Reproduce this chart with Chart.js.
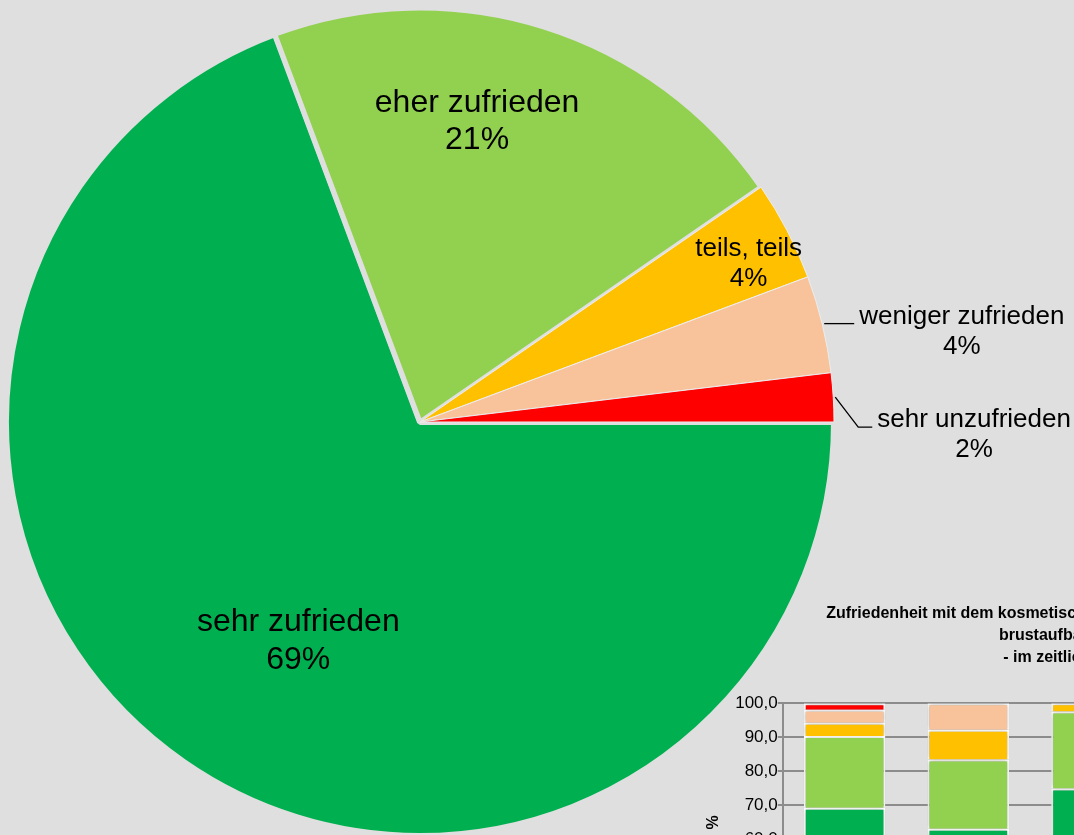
<!DOCTYPE html>
<html lang="de">
<head>
<meta charset="utf-8">
<script src="https://cdn.jsdelivr.net/npm/chart.js@4.4.1/dist/chart.umd.min.js"></script>
<style>
    html, body {
        margin: 0;
        padding: 0;
        width: 1074px;
        height: 835px;
        overflow: hidden;
        background: #dfdfdf;
    }
    #pie { position: absolute; left: 0; top: 0; }
    #bars { position: absolute; left: 700px; top: 590px; }
</style>
</head>
<body>
<canvas id="pie" width="1074" height="835"></canvas>
<canvas id="bars" width="840" height="400"></canvas>
<script>
// Antwortkategorien und Anteile (%)
const kategorien = ['sehr zufrieden', 'eher zufrieden', 'teils, teils', 'weniger zufrieden', 'sehr unzufrieden'];
const anteile = [69.3, 21.1, 3.9, 3.8, 1.9];
const farben = ['#00b050', '#92d050', '#ffc000', '#f8c39b', '#ff0000'];

// kleines Balkendiagramm: zeitlicher Vergleich
const jahre = ['2017', '2015', '2013', '2011', '2009'];
const sehrZufrieden = [69.3, 63.2, 75.0, null, null];
const eherZufrieden = [21.1, 20.3, 22.6, null, null];
const teilsTeils = [3.9, 8.7, 2.4, null, null];
const wenigerZufrieden = [3.8, 7.8, 0, null, null];
const sehrUnzufrieden = [1.9, 0, 0, null, null];
const reihen = [sehrZufrieden, eherZufrieden, teilsTeils, wenigerZufrieden, sehrUnzufrieden];

const titelZeilen = [
    'Zufriedenheit mit dem kosmetischen Ergebnis der brusterhaltenden bzw. der',
    'brustaufbauenden Operationen',
    '- im zeitlichen Vergleich (in %)'
];

const FONT = '"Liberation Sans", Arial, sans-serif';
Chart.defaults.font.family = FONT;
Chart.defaults.color = '#000';

let prozent = anteile.map(v => Math.round(v) + '%');

// wo die Beschriftungen sitzen (innen: Abstand/Drehung, außen: Führungslinie)
let labelPos = [
    {dist: 0.61, turn: -5.7, size: 32, lh: 38},
    {dist: 0.744, turn: -6.7, size: 32, lh: 37},
    {dist: 0.887, turn: 1.9, size: 26, lh: 30},
    {leader: [[30, 0]], size: 26, lh: 30},
    {leader: [[23, 30], [14, 0]], size: 26, lh: 30},
];

let pieLabels = {
    id: 'pieLabels',
    afterDatasetsDraw(chart) {
        let ctx = chart.ctx;
        let arcs = chart.getDatasetMeta(0).data;
        ctx.save();
        ctx.fillStyle = '#000';
        ctx.textAlign = 'center';
        arcs.forEach((arc, i) => {
            let p = arc.getProps(['x', 'y', 'startAngle', 'endAngle', 'outerRadius']);
            let pos = labelPos[i];
            let mid = (p.startAngle + p.endAngle) / 2;
            let r = p.outerRadius - 3;
            ctx.font = pos.size + 'px ' + FONT;
            if (!pos.leader) {
                let a = mid + pos.turn * Math.PI / 180;
                let cx = p.x + Math.cos(a) * r * pos.dist;
                let cy = p.y + Math.sin(a) * r * pos.dist;
                ctx.textBaseline = 'middle';
                ctx.fillText(kategorien[i], cx, cy - pos.lh / 2);
                ctx.fillText(prozent[i], cx, cy + pos.lh / 2);
            } else {
                let x = p.x + Math.cos(mid) * (r + 5);
                let y = p.y + Math.sin(mid) * (r + 5);
                ctx.beginPath();
                ctx.moveTo(x, y);
                pos.leader.forEach(([dx, dy]) => {
                    x += dx;
                    y += dy;
                    ctx.lineTo(x, y);
                });
                ctx.strokeStyle = '#000';
                ctx.lineWidth = 1.3;
                ctx.stroke();
                let w = ctx.measureText(kategorien[i]).width;
                ctx.textBaseline = 'alphabetic';
                ctx.fillText(kategorien[i], x + 5 + w / 2, y);
                ctx.fillText(prozent[i], x + 5 + w / 2, y + pos.lh);
            }
        });
        ctx.restore();
    }
};

// leichter Schatten unter den Balken
let barShadow = {
    id: 'barShadow',
    beforeDatasetsDraw(chart) {
        let ctx = chart.ctx;
        ctx.save();
        ctx.shadowColor = 'rgba(0, 0, 0, 0.28)';
        ctx.shadowBlur = 5;
    },
    afterDatasetsDraw(chart) {
        chart.ctx.restore();
    }
};

let pieChart = new Chart(document.getElementById('pie'), {
    type: 'pie',
    data: {
        labels: kategorien,
        datasets: [{
            data: anteile,
            backgroundColor: farben,
            borderColor: ['#dfdfdf', '#dfdfdf', '#ececec', '#ececec', '#ececec'],
            borderWidth: [6, 5, 1, 1, 1],
            radius: 414,
        }]
    },
    options: {
        responsive: false,
        animation: false,
        rotation: 90,
        layout: {padding: {left: 9, right: 243, top: 11, bottom: 2}},
        plugins: {
            legend: {display: false},
            tooltip: {enabled: false}
        }
    },
    plugins: [pieLabels]
});

let barChart = new Chart(document.getElementById('bars'), {
    type: 'bar',
    data: {
        labels: jahre,
        datasets: kategorien.map((k, i) => ({
            label: k,
            data: reihen[i],
            backgroundColor: farben[i],
            borderColor: '#ffffff',
            borderWidth: 2,
            barPercentage: 0.66,
            categoryPercentage: 1,
        }))
    },
    options: {
        responsive: false,
        animation: false,
        layout: {padding: {left: 2, right: 6, top: 0, bottom: 23}},
        scales: {
            x: {
                stacked: true,
                grid: {display: false, drawTicks: false},
                border: {display: false},
                ticks: {font: {size: 16}}
            },
            y: {
                stacked: true,
                min: 30,
                max: 100,
                ticks: {
                    stepSize: 10,
                    padding: 0,
                    font: {size: 17},
                    callback: v => v.toFixed(1).replace('.', ',')
                },
                grid: {color: '#8c8c8c', lineWidth: 2, tickLength: 5},
                border: {color: '#8c8c8c', width: 2},
                title: {display: true, text: '%', font: {size: 16, weight: 'bold'}, padding: {top: 2, bottom: 12}}
            }
        },
        plugins: {
            legend: {position: 'right', labels: {font: {size: 12}, boxWidth: 12}},
            title: {
                display: true,
                text: titelZeilen,
                font: {size: 16, weight: 'bold', lineHeight: 1.4},
                padding: {top: 12, bottom: 34}
            },
            tooltip: {enabled: false}
        }
    },
    plugins: [barShadow]
});
</script>
</body>
</html>
